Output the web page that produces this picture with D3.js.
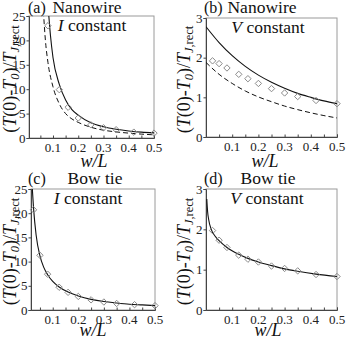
<!DOCTYPE html>
<html><head><meta charset="utf-8">
<script src="https://cdn.jsdelivr.net/npm/d3@7"></script>
</head>
<body style="margin:0;padding:0;background:#fff">
<svg id="c" width="346" height="338" style="display:block"></svg>
<script>
// ---- data ----
const diamondX = [0.025, 0.05, 0.08, 0.125, 0.16, 0.2, 0.25, 0.3, 0.35, 0.42, 0.5];

const aDiamX = [0.08, 0.125, 0.16, 0.2, 0.25, 0.3, 0.35, 0.42, 0.5];
const aDiamY = [23, 9.9, 6.3, 4.1, 2.7, 2.1, 1.7, 1.2, 1.0];
const aSolidX = [0.082, 0.09, 0.1, 0.125, 0.15, 0.175, 0.2, 0.25, 0.3, 0.35, 0.4, 0.45, 0.5];
const aSolidY = [26, 21, 16.5, 11, 7.8, 5.8, 4.7, 3.1, 2.3, 1.8, 1.45, 1.2, 1.05];
const aDashX = [0.062, 0.07, 0.08, 0.1, 0.125, 0.15, 0.175, 0.2, 0.25, 0.3, 0.35, 0.4, 0.45, 0.5];
const aDashY = [26, 20, 15.5, 10.5, 7, 5, 3.9, 3.2, 2.2, 1.6, 1.25, 1.0, 0.8, 0.65];

const bDiamY = [1.92, 1.85, 1.74, 1.58, 1.47, 1.35, 1.22, 1.11, 1.02, 0.92, 0.84];
const bLineX = [0, 0.05, 0.1, 0.15, 0.2, 0.25, 0.3, 0.35, 0.4, 0.45, 0.5];
const bSolidY = [2.78, 2.38, 2.05, 1.78, 1.56, 1.38, 1.23, 1.1, 1.0, 0.91, 0.84];
const bDashY = [1.88, 1.58, 1.35, 1.16, 1.01, 0.89, 0.78, 0.69, 0.61, 0.54, 0.48];

const cDiamY = [20.7, 11.3, 7.4, 4.7, 3.65, 2.8, 2.1, 1.65, 1.35, 1.1, 0.9];
const cSolidX = [0.019, 0.025, 0.035, 0.05, 0.065, 0.08, 0.1, 0.125, 0.16, 0.2, 0.25, 0.3, 0.35, 0.4, 0.45, 0.5];
const cSolidY = [26, 21, 15.5, 11.2, 8.8, 7.3, 5.9, 4.75, 3.7, 2.9, 2.2, 1.75, 1.45, 1.2, 1.05, 0.9];

const dDiamY = [1.97, 1.73, 1.55, 1.36, 1.26, 1.19, 1.09, 1.03, 0.97, 0.88, 0.83];
const dSolidX = [0.003, 0.006, 0.01, 0.02, 0.035, 0.05, 0.08, 0.125, 0.16, 0.2, 0.25, 0.3, 0.35, 0.42, 0.5];
const dSolidY = [2.75, 2.45, 2.25, 2.0, 1.83, 1.72, 1.55, 1.38, 1.28, 1.19, 1.1, 1.02, 0.96, 0.89, 0.83];

const xTickLabels = [0.1, 0.2, 0.3, 0.4, 0.5];
const yTicksBig = [0, 5, 10, 15, 20, 25];
const yTicksSmall = [0, 1, 2, 3];

const panels = [
  {tag:"(a)", title:"Nanowire", sub:"I", x0:29, x1:154, y0:138, y1:16, xd:[0.005,0.5], yd:[0,25], yt:yTicksBig,
   tagX:28, titleX:87, subX:92, titleDy:-3, xlabX:94, xlabDy:29, ylabX:16,
   diamX:aDiamX, diamY:aDiamY, solidX:aSolidX, solidY:aSolidY, dashX:aDashX, dashY:aDashY},
  {tag:"(b)", title:"Nanowire", sub:"V", x0:206, x1:337, y0:137, y1:18, xd:[0,0.5], yd:[0,3], yt:yTicksSmall,
   tagX:204, titleX:262, subX:268, titleDy:-5, xlabX:265, xlabDy:30, ylabX:190,
   diamX:diamondX, diamY:bDiamY, solidX:bLineX, solidY:bSolidY, dashX:bLineX, dashY:bDashY},
  {tag:"(c)", title:"Bow tie", sub:"I", x0:31, x1:155, y0:310, y1:189, xd:[0.015,0.5], yd:[0,25], yt:yTicksBig,
   tagX:28, titleX:95, subX:88, titleDy:-5, xlabX:93, xlabDy:26, ylabX:16,
   diamX:diamondX, diamY:cDiamY, solidX:cSolidX, solidY:cSolidY},
  {tag:"(d)", title:"Bow tie", sub:"V", x0:206, x1:337, y0:310, y1:189, xd:[0,0.5], yd:[0,3], yt:yTicksSmall,
   tagX:204, titleX:268, subX:267, titleDy:-5, xlabX:268, xlabDy:26, ylabX:190,
   diamX:diamondX, diamY:dDiamY, solidX:dSolidX, solidY:dSolidY}
];

const FONT = "'Liberation Serif'";
const svg = d3.select("#c").style("font-family", FONT);

function txt(sel) { return sel.style("font-family", FONT); }

panels.forEach((p, i) => {
  const x = d3.scaleLinear().domain(p.xd).range([p.x0, p.x1]);
  const y = d3.scaleLinear().domain(p.yd).range([p.y0, p.y1]);
  const g = svg.append("g");
  const cid = "clip" + i;
  svg.append("clipPath").attr("id", cid).append("rect")
    .attr("x", p.x0).attr("y", p.y1).attr("width", p.x1 - p.x0).attr("height", p.y0 - p.y1);

  g.append("rect").attr("x", p.x0).attr("y", p.y1).attr("width", p.x1 - p.x0).attr("height", p.y0 - p.y1)
    .attr("fill", "none").attr("stroke", "#9a9a9a").attr("stroke-width", 1);

  const xAxis = d3.axisBottom(x).tickValues(d3.range(0.05, 0.5001, 0.05).filter(v => v >= p.xd[0]))
    .tickSize(-2.5).tickFormat("");
  const gx = g.append("g").attr("transform", `translate(0,${p.y0})`).call(xAxis);
  gx.select(".domain").attr("stroke", "#444");
  gx.selectAll(".tick line").attr("stroke", "#444");
  g.selectAll(".xlab").data(xTickLabels).enter().append("text")
    .attr("x", d => x(d)).attr("y", p.y0 + 14).attr("text-anchor", "middle")
    .style("font-family", FONT).style("font-size", "13px").attr("fill", "#222").text(d => d);

  const yAxis = d3.axisLeft(y).tickValues(p.yt).tickSize(2.5).tickPadding(1).tickFormat(d => d);
  const gy = g.append("g").attr("transform", `translate(${p.x0},0)`).call(yAxis);
  gy.attr("font-family", null).style("font-family", FONT);
  gy.select(".domain").attr("stroke", "#444");
  gy.selectAll(".tick line").attr("stroke", "#444");
  gy.selectAll(".tick text").style("font-size", "13px").attr("fill", "#222").style("font-family", FONT);

  const plot = g.append("g").attr("clip-path", `url(#${cid})`);
  const line = d3.line().x(d => x(d[0])).y(d => y(d[1])).curve(d3.curveMonotoneX);
  if (p.dashX) {
    plot.append("path").attr("d", line(d3.zip(p.dashX, p.dashY)))
      .attr("fill", "none").attr("stroke", "#111").attr("stroke-width", 1).attr("stroke-dasharray", "5,3");
  }
  plot.append("path").attr("d", line(d3.zip(p.solidX, p.solidY)))
    .attr("fill", "none").attr("stroke", "#111").attr("stroke-width", 1.1);

  const sym = d3.symbol().type(d3.symbolDiamond2).size(26);
  g.selectAll(".dm").data(d3.zip(p.diamX, p.diamY)).enter().append("path")
    .attr("d", sym).attr("transform", d => `translate(${x(d[0])},${y(d[1])})`)
    .attr("fill", "none").attr("stroke", "#8a8a8a").attr("stroke-width", 1);

  txt(g.append("text")).attr("x", p.tagX).attr("y", p.y1 + p.titleDy).style("font-size", "16px")
    .attr("fill", "#111").text(p.tag);
  txt(g.append("text")).attr("x", p.titleX).attr("y", p.y1 + p.titleDy).attr("text-anchor", "middle")
    .style("font-size", "17.5px").attr("fill", "#111").text(p.title);
  const st = txt(g.append("text")).attr("x", p.subX).attr("y", p.y1 + 15).attr("text-anchor", "middle")
    .style("font-size", "17.5px").attr("fill", "#111");
  st.append("tspan").style("font-style", "italic").text(p.sub);
  st.append("tspan").text(" constant");

  txt(g.append("text")).attr("x", p.xlabX).attr("y", p.y0 + p.xlabDy).attr("text-anchor", "middle")
    .style("font-size", "18px").style("font-style", "italic").attr("fill", "#111").text("w/L");

  const yl = txt(g.append("text")).attr("transform", `translate(${p.ylabX},${(p.y0 + p.y1) / 2 + 2}) rotate(-90)`)
    .attr("text-anchor", "middle").style("font-size", "18px").attr("fill", "#111");
  yl.append("tspan").text("(");
  yl.append("tspan").style("font-style", "italic").text("T");
  yl.append("tspan").text("(0)-");
  yl.append("tspan").style("font-style", "italic").text("T");
  yl.append("tspan").style("font-size", "12.5px").style("font-style", "italic").attr("dy", 3).text("0");
  yl.append("tspan").attr("dy", -3).text(")/");
  yl.append("tspan").style("font-style", "italic").text("T");
  yl.append("tspan").style("font-size", "12.5px").attr("dy", 3).style("font-style", "italic").text("J");
  yl.append("tspan").style("font-size", "12.5px").text(",rect");
});
</script>
</body></html>
